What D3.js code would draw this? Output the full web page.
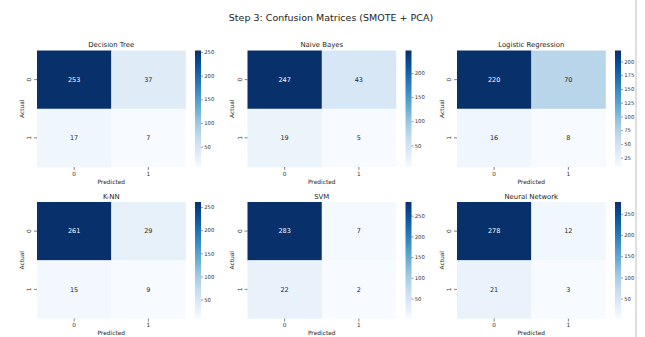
<!DOCTYPE html>
<html>
<head>
<meta charset="utf-8">
<script src="https://cdn.jsdelivr.net/npm/d3@7"></script>
<style>
  html, body { margin: 0; padding: 0; background: #fff; }
  svg { display: block; font-family: "DejaVu Sans", sans-serif; }
</style>
</head>
<body>
<svg id="chart" width="645" height="337"></svg>
<script>
// Confusion matrices of six classifiers trained on SMOTE + PCA features
const models = ["Decision Tree", "Naive Bayes", "Logistic Regression", "K-NN", "SVM", "Neural Network"];
const decisionTree   = [[253, 37], [17, 7]];
const naiveBayes     = [[247, 43], [19, 5]];
const logisticReg    = [[220, 70], [16, 8]];
const knn            = [[261, 29], [15, 9]];
const svm            = [[283, 7], [22, 2]];
const neuralNetwork  = [[278, 12], [21, 3]];
const matrices = [decisionTree, naiveBayes, logisticReg, knn, svm, neuralNetwork];
const classLabels = ["0", "1"];
const colorbarTicks = [
  [50, 100, 150, 200, 250],
  [50, 100, 150, 200],
  [25, 50, 75, 100, 125, 150, 175, 200],
  [50, 100, 150, 200, 250],
  [50, 100, 150, 200, 250],
  [50, 100, 150, 200, 250]
];

// "Blues" colormap, linear between the nine ColorBrewer anchors
const bluesAnchors = ["#f7fbff", "#deebf7", "#c6dbef", "#9ecae1", "#6baed6",
                      "#4292c6", "#2171b5", "#08519c", "#08306b"];
const blues = d3.scaleLinear()
  .domain(d3.range(9).map(i => i / 8))
  .range(bluesAnchors)
  .interpolate(d3.interpolateRgb)
  .clamp(true);

function luminance(c) {
  const rgb = d3.rgb(c);
  const f = v => { v /= 255; return v <= 0.03928 ? v / 12.92 : Math.pow((v + 0.055) / 1.055, 2.4); };
  return 0.2126 * f(rgb.r) + 0.7152 * f(rgb.g) + 0.0722 * f(rgb.b);
}

const svg = d3.select("#chart");
const defs = svg.append("defs");

// page edge rule
svg.append("line")
  .attr("x1", 636).attr("x2", 636).attr("y1", 0).attr("y2", 337)
  .attr("stroke", "#d4d4d4").attr("stroke-width", 1.5);

svg.append("text")
  .attr("x", 331).attr("y", 21)
  .attr("text-anchor", "middle")
  .attr("font-size", 9.5)
  .attr("fill", "#222")
  .text("Step 3: Confusion Matrices (SMOTE + PCA)");

const colLeft = [37, 247.5, 457];
const rowTop = [50.5, 202];
const mapW = 148.5, mapH = 116.5;
const cbGap = 9.5, cbW = 6;
const tickColor = "#333";

matrices.forEach((m, k) => {
  const left = colLeft[k % 3];
  const top = rowTop[Math.floor(k / 3)];
  const g = svg.append("g").attr("transform", `translate(${left},${top})`);

  const values = m.flat();
  const vmin = d3.min(values), vmax = d3.max(values);
  const norm = d3.scaleLinear().domain([vmin, vmax]).range([0, 1]);
  const color = v => blues(norm(v));

  const x = d3.scaleBand().domain(classLabels).range([0, mapW]);
  const y = d3.scaleBand().domain(classLabels).range([0, mapH]);

  const cells = [];
  m.forEach((row, i) => row.forEach((v, j) => cells.push({ actual: classLabels[i], pred: classLabels[j], v })));

  g.selectAll("rect.cell").data(cells).join("rect")
    .attr("class", "cell")
    .attr("x", d => x(d.pred))
    .attr("y", d => y(d.actual))
    .attr("width", x.bandwidth() + 0.3)
    .attr("height", y.bandwidth() + 0.3)
    .attr("fill", d => color(d.v));

  g.selectAll("text.annot").data(cells).join("text")
    .attr("class", "annot")
    .attr("x", d => x(d.pred) + x.bandwidth() / 2)
    .attr("y", d => y(d.actual) + y.bandwidth() / 2)
    .attr("dy", "0.35em")
    .attr("text-anchor", "middle")
    .attr("font-size", 6.5)
    .attr("fill", d => luminance(color(d.v)) > 0.408 ? "#262626" : "#ffffff")
    .text(d => d.v);

  // x axis
  const xAxis = g.append("g").attr("transform", `translate(0,${mapH})`)
    .call(d3.axisBottom(x).tickSize(3).tickPadding(1.5));
  xAxis.select(".domain").remove();
  xAxis.selectAll("line").attr("stroke", tickColor).attr("stroke-width", 0.6);
  xAxis.selectAll("text").attr("font-size", 5.8).attr("fill", tickColor).attr("font-family", "DejaVu Sans");

  // y axis with rotated labels
  const yAxis = g.append("g").call(d3.axisLeft(y).tickSize(3).tickPadding(1.5));
  yAxis.select(".domain").remove();
  yAxis.selectAll("line").attr("stroke", tickColor).attr("stroke-width", 0.6);
  yAxis.selectAll("text")
    .attr("font-size", 5.8).attr("fill", tickColor).attr("font-family", "DejaVu Sans")
    .attr("x", null).attr("dy", null)
    .attr("text-anchor", "middle")
    .attr("transform", "translate(-6.5,0) rotate(-90)")
    .attr("y", 0).attr("dy", "0.1em");

  g.append("text")
    .attr("x", mapW / 2).attr("y", mapH + 16.5)
    .attr("text-anchor", "middle")
    .attr("font-size", 5.9).attr("fill", "#262626")
    .text("Predicted");

  g.append("text")
    .attr("transform", `translate(-13.5,${mapH / 2}) rotate(-90)`)
    .attr("text-anchor", "middle")
    .attr("font-size", 5.9).attr("fill", "#262626")
    .text("Actual");

  g.append("text")
    .attr("x", mapW / 2).attr("y", -3.5)
    .attr("text-anchor", "middle")
    .attr("font-size", 6.9).attr("fill", "#222")
    .text(models[k]);

  // colorbar
  const gradId = `cbar-${k}`;
  const grad = defs.append("linearGradient").attr("id", gradId)
    .attr("x1", 0).attr("x2", 0).attr("y1", 1).attr("y2", 0);
  d3.range(0, 1.0001, 0.05).forEach(t => {
    grad.append("stop").attr("offset", t).attr("stop-color", blues(t));
  });
  const cb = g.append("g").attr("transform", `translate(${mapW + cbGap},0)`);
  cb.append("rect").attr("width", cbW).attr("height", mapH).attr("fill", `url(#${gradId})`);
  const cbScale = d3.scaleLinear().domain([vmin, vmax]).range([mapH, 0]);
  const cbAxis = cb.append("g").attr("transform", `translate(${cbW},0)`)
    .call(d3.axisRight(cbScale).tickValues(colorbarTicks[k]).tickSize(2).tickPadding(1.2));
  cbAxis.select(".domain").remove();
  cbAxis.selectAll("line").attr("stroke", tickColor).attr("stroke-width", 0.5);
  cbAxis.selectAll("text").attr("font-size", 5.3).attr("fill", tickColor).attr("font-family", "DejaVu Sans");
});
</script>
</body>
</html>
